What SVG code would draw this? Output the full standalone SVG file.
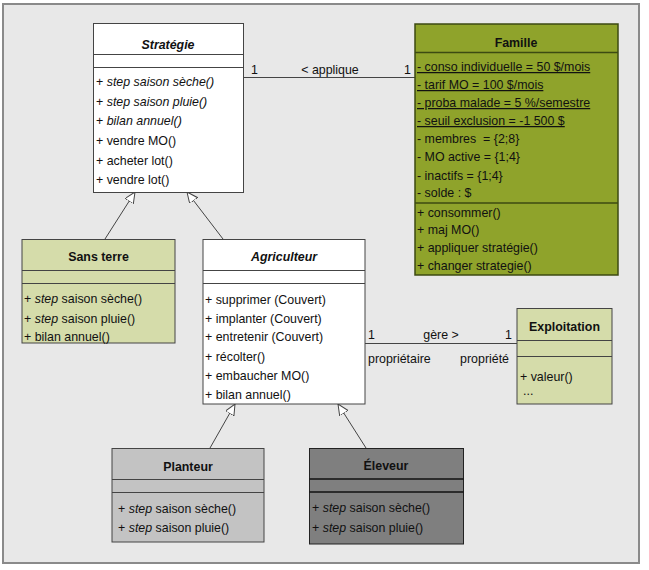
<svg xmlns="http://www.w3.org/2000/svg" width="649" height="570" viewBox="0 0 649 570">
<style>
text{font-family:"Liberation Sans",Arial,sans-serif;font-size:12.4px;fill:#111;white-space:pre}
.t{font-weight:bold;text-anchor:middle}
.ti{font-weight:bold;font-style:italic;text-anchor:middle}
.i{font-style:italic}
.u{text-decoration:underline}
.box{stroke:#444;stroke-width:1}
.sep{stroke:#444;stroke-width:1}
.fam{fill:#8fa32b;stroke:#3c4a12}
.fsep{stroke:#3c4a12;stroke-width:1.5}
.lg{fill:#d5dcaa}
.wh{fill:#ffffff}
.g1{fill:#c3c3c3}
.g2{fill:#7f7f7f;stroke:#222}
.g2sep{stroke:#111;stroke-width:1.5}
.con{stroke:#444;stroke-width:1;fill:none}
</style>
<defs>
<marker id="gen" markerUnits="userSpaceOnUse" markerWidth="13" markerHeight="12" refX="11" refY="5" orient="auto">
<path d="M0,0 L11,5 L0,10 z" fill="#ffffff" stroke="#444" stroke-width="1"/>
</marker>
</defs>
<rect x="3" y="4" width="636" height="559" fill="#e8e8e8" stroke="#8a8a8a" stroke-width="2"/>

<g id="connectors">
<line class="con" x1="243" y1="77.5" x2="415" y2="77.5"/>
<text x="251" y="74">1</text>
<text x="330" y="74" text-anchor="middle">&lt; applique</text>
<text x="404" y="74">1</text>
<line class="con" x1="365" y1="343.5" x2="517" y2="343.5"/>
<text x="368" y="339">1</text>
<text x="441" y="339" text-anchor="middle">gère &gt;</text>
<text x="505" y="339">1</text>
<text x="368" y="363">propriétaire</text>
<text x="509" y="363" text-anchor="end">propriété</text>
<line class="con" x1="105" y1="239" x2="135" y2="192" marker-end="url(#gen)"/>
<line class="con" x1="223" y1="239" x2="187" y2="192" marker-end="url(#gen)"/>
<line class="con" x1="210" y1="448" x2="235" y2="404" marker-end="url(#gen)"/>
<line class="con" x1="366" y1="448" x2="338" y2="404" marker-end="url(#gen)"/>
</g>

<g id="strategie">
<rect class="box wh" x="93.5" y="23.5" width="150" height="169"/>
<line class="sep" x1="93.5" y1="54.5" x2="243.5" y2="54.5"/>
<line class="sep" x1="93.5" y1="67.5" x2="243.5" y2="67.5"/>
<text class="ti" x="168" y="49">Stratégie</text>
<text x="96" y="86">+ <tspan class="i">step saison sèche()</tspan></text>
<text x="96" y="106">+ <tspan class="i">step saison pluie()</tspan></text>
<text x="96" y="125">+ <tspan class="i">bilan annuel()</tspan></text>
<text x="96" y="145">+ vendre MO()</text>
<text x="96" y="165">+ acheter lot()</text>
<text x="96" y="184">+ vendre lot()</text>
</g>

<g id="famille">
<rect class="fam" x="415" y="24" width="203" height="251" stroke-width="1.5"/>
<line class="fsep" x1="415" y1="52.5" x2="618" y2="52.5"/>
<line class="fsep" x1="415" y1="203" x2="618" y2="203"/>
<text class="t" x="516" y="47">Famille</text>
<text class="u" x="417" y="71">- conso individuelle = 50 $/mois</text>
<text class="u" x="417" y="89">- tarif MO = 100 $/mois</text>
<text class="u" x="417" y="107">- proba malade = 5 %/semestre</text>
<text class="u" x="417" y="125">- seuil exclusion = -1 500 $</text>
<text x="417" y="143">- membres  = {2;8}</text>
<text x="417" y="161">- MO active = {1;4}</text>
<text x="417" y="180">- inactifs = {1;4}</text>
<text x="417" y="197">- solde : $</text>
<text x="417" y="217">+ consommer()</text>
<text x="417" y="234">+ maj MO()</text>
<text x="417" y="252">+ appliquer stratégie()</text>
<text x="417" y="270">+ changer strategie()</text>
</g>

<g id="sans-terre">
<rect class="box lg" x="22" y="239.5" width="153" height="103.5"/>
<line class="sep" x1="22" y1="270.5" x2="175" y2="270.5"/>
<line class="sep" x1="22" y1="283.5" x2="175" y2="283.5"/>
<text class="t" x="98.5" y="261">Sans terre</text>
<text x="24" y="303">+ <tspan class="i">step</tspan> saison sèche()</text>
<text x="24" y="323">+ <tspan class="i">step</tspan> saison pluie()</text>
<text x="24" y="341">+ bilan annuel()</text>
</g>

<g id="agriculteur">
<rect class="box wh" x="203" y="239.5" width="162" height="164.5"/>
<line class="sep" x1="203" y1="270.5" x2="365" y2="270.5"/>
<line class="sep" x1="203" y1="283.5" x2="365" y2="283.5"/>
<text class="ti" x="284" y="261">Agriculteur</text>
<text x="205" y="304">+ supprimer (Couvert)</text>
<text x="205" y="323">+ implanter (Couvert)</text>
<text x="205" y="341">+ entretenir (Couvert)</text>
<text x="205" y="361">+ récolter()</text>
<text x="205" y="380">+ embaucher MO()</text>
<text x="205" y="399">+ bilan annuel()</text>
</g>

<g id="exploitation">
<rect class="box lg" x="517" y="308.5" width="95" height="95.5"/>
<line class="sep" x1="517" y1="340.5" x2="612" y2="340.5"/>
<line class="sep" x1="517" y1="356.5" x2="612" y2="356.5"/>
<text class="t" x="564.5" y="331">Exploitation</text>
<text x="520" y="381">+ valeur()</text>
<text x="523" y="395">...</text>
</g>

<g id="planteur">
<rect class="box g1" x="112" y="448.5" width="152" height="93.5"/>
<line class="sep" x1="112" y1="479.5" x2="264" y2="479.5"/>
<line class="sep" x1="112" y1="492.5" x2="264" y2="492.5"/>
<text class="t" x="188" y="471">Planteur</text>
<text x="118" y="513">+ <tspan class="i">step</tspan> saison sèche()</text>
<text x="118" y="532">+ <tspan class="i">step</tspan> saison pluie()</text>
</g>

<g id="eleveur">
<rect class="g2" x="309.5" y="448.5" width="154" height="95.5" stroke-width="1"/>
<line class="g2sep" x1="309.5" y1="479" x2="463.5" y2="479"/>
<line class="g2sep" x1="309.5" y1="492" x2="463.5" y2="492"/>
<text class="t" x="386" y="470">Éleveur</text>
<text x="312" y="512">+ <tspan class="i">step</tspan> saison sèche()</text>
<text x="312" y="532">+ <tspan class="i">step</tspan> saison pluie()</text>
</g>
</svg>
